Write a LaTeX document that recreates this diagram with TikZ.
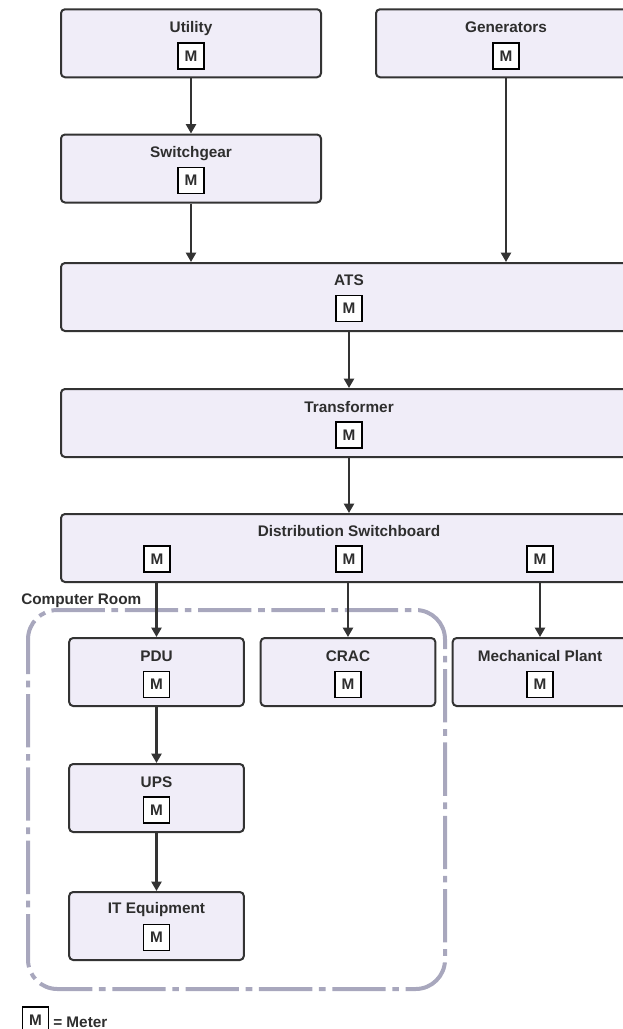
\documentclass[tikz,border=0pt]{standalone}
\usepackage{fontspec}
\setmainfont{Liberation Sans}
\usepackage{xcolor}
\usetikzlibrary{arrows.meta,positioning,calc}
\definecolor{boxfill}{HTML}{F0EDF8}
\definecolor{boxline}{HTML}{333333}
\definecolor{roomline}{HTML}{A8A7BD}
\definecolor{txt}{HTML}{2E2E2E}

\begin{document}
\begin{tikzpicture}[x=0.75pt, y=-0.75pt,
    unit/.style={draw=boxline, line width=1.5pt, fill=boxfill, rounded corners=3pt, inner sep=0pt, minimum height=51pt},
    wide/.style={unit, minimum width=432pt},
    mid/.style={unit, minimum width=195pt},
    small/.style={unit, minimum width=131pt},
    title/.style={font=\fontsize{11.5}{13}\selectfont\bfseries, text=txt, inner sep=0pt, anchor=base},
    meter/.style={draw=black, line width=1.4pt, fill=white, minimum size=19.5pt, inner sep=0pt, font=\fontsize{11.5}{13}\selectfont\bfseries, text=txt},
    feed/.style={draw=boxline, line width=1.6pt, -{Triangle[length=7pt,width=7.5pt]}}]
    \useasboundingbox (0,0) rectangle (622,1029);

    % Supply side
    \node[mid] (util) at (191,43.25) {};
    \node[title] (utilT) at (191,32) {Utility};
    \node[meter] (utilM) at (191,56) {M};

    \node[mid] (gen) at (506,43.25) {};
    \node[title] (genT) at (506,32) {Generators};
    \node[meter] (genM) at (506,56) {M};

    \node[mid] (swg) at (191,168.5) {};
    \node[title] (swgT) at (191,157.5) {Switchgear};
    \node[meter] (swgM) at (191,180.5) {M};

    % Main path
    \node[wide] (ats) at (349,297) {};
    \node[title] (atsT) at (349,285.5) {ATS};
    \node[meter] (atsM) at (349,308.5) {M};

    \node[wide] (trans) at (349,423) {};
    \node[title] (transT) at (349,412.5) {Transformer};
    \node[meter] (transM) at (349,435) {M};

    \node[wide] (dist) at (349,548) {};
    \node[title] (distT) at (349,536.5) {Distribution Switchboard};
    \node[meter] (distM1) at (157,559) {M};
    \node[meter] (distM2) at (349,559) {M};
    \node[meter] (distM3) at (540,559) {M};

    % Computer room
    \draw[roomline, line width=3pt, rounded corners=22pt,
        dash pattern=on 40pt off 5pt on 5pt off 5pt, dash phase=14pt] (28,610) rectangle (445,989);
    \node[title, anchor=base west] (roomT) at (21,604) {Computer Room};

    % Loads
    \node[small] (pdu) at (156.5,672) {};
    \node[title] (pduT) at (156.5,661.5) {PDU};
    \node[meter] (pduM) at (156.5,684.5) {M};

    \node[small] (crac) at (348,672) {};
    \node[title] (cracT) at (348,661.5) {CRAC};
    \node[meter] (cracM) at (348,684.5) {M};

    \node[small] (mech) at (540,672) {};
    \node[title] (mechT) at (540,661.5) {Mechanical Plant};
    \node[meter] (mechM) at (540,684.5) {M};

    \node[small] (ups) at (156.5,798) {};
    \node[title] (upsT) at (156.5,787.5) {UPS};
    \node[meter] (upsM) at (156.5,810) {M};

    \node[small] (it) at (156.5,926) {};
    \node[title] (itT) at (156.5,913.5) {IT Equipment};
    \node[meter] (itM) at (156.5,937.5) {M};

    % Feeds
    \draw[feed] (util) -- (swg);
    \draw[feed] (swg.south) -- (swg.south |- ats.north);
    \draw[feed] (gen.south) -- (gen.south |- ats.north);
    \draw[feed] (ats) -- (trans);
    \draw[feed] (trans) -- (dist);
    \draw[feed] (dist.south -| pdu.north) -- (pdu.north);
    \draw[feed] (dist.south -| crac.north) -- (crac.north);
    \draw[feed] (dist.south -| mech.north) -- (mech.north);
    \draw[feed] (pdu) -- (ups);
    \draw[feed] (ups) -- (it);

    % Key
    \node[meter] (key) at (35.5,1020) {M};
    \node[title, anchor=base west] (keyT) at (53,1027) {= Meter};
\end{tikzpicture}
\end{document}
